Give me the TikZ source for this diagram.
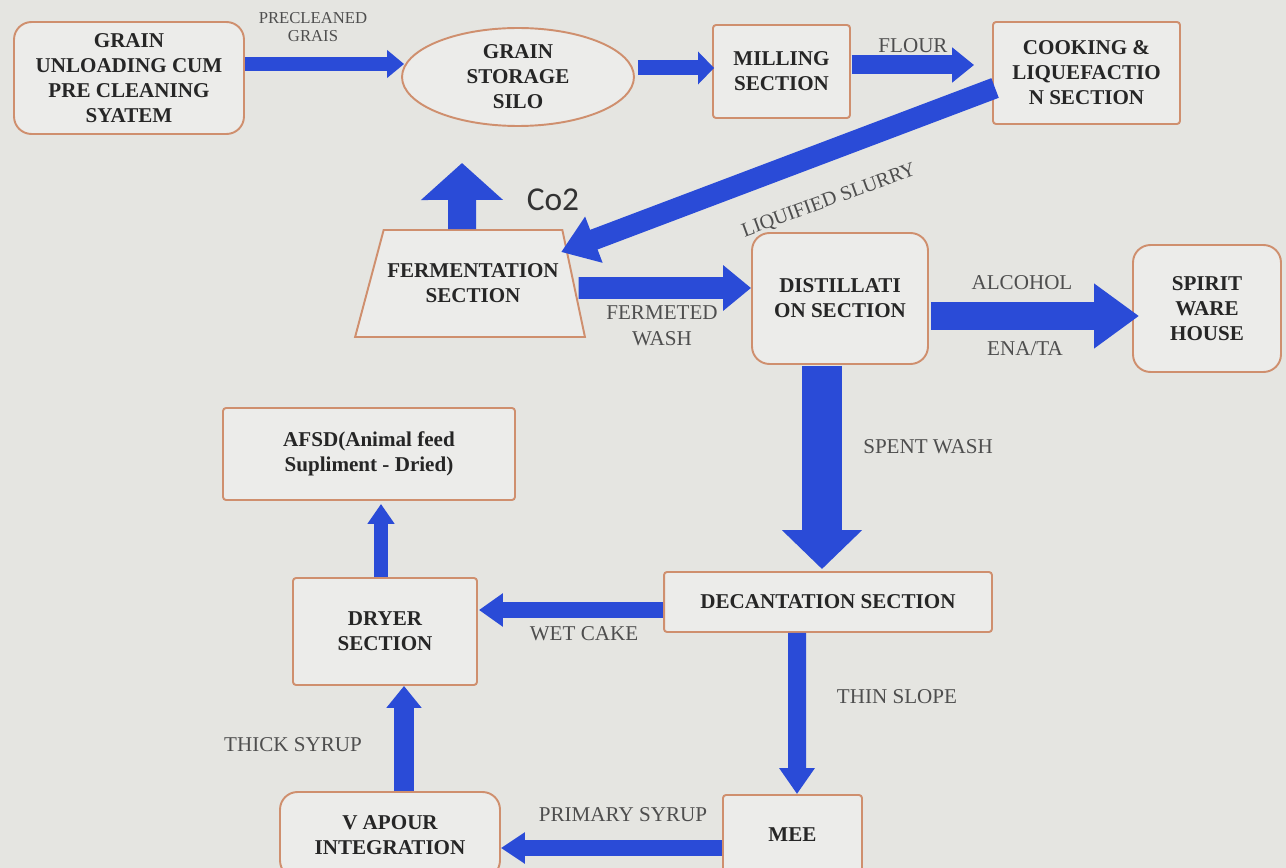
\documentclass[tikz,border=0pt]{standalone}
\usepackage{fontspec}
\setmainfont{Liberation Serif}
\newfontfamily\cofont{Carlito}
\usepackage{tikz}
\usetikzlibrary{calc,arrows.meta,shapes.geometric}

\definecolor{bgcol}{HTML}{E5E5E1}
\definecolor{boxfill}{HTML}{ECECEA}
\definecolor{boxline}{HTML}{CF8F6E}
\definecolor{flowblue}{HTML}{2A4BD7}
\definecolor{lblgray}{HTML}{4E4E4E}

\tikzset{
  box/.style={draw=boxline, fill=boxfill, line width=1.1pt, align=center, inner sep=0pt,
    text=black!85, font=\fontsize{12}{14.2}\selectfont\bfseries},
  rbox/.style={box, rounded corners=0.35cm},
  sbox/.style={box, rounded corners=0.06cm},
  lbl/.style={text=lblgray, align=center, font=\fontsize{12}{13}\selectfont},
  flow/.style={draw=flowblue, line width=#1},
}

\begin{document}
\begin{tikzpicture}[x=0.02cm,y=-0.02cm]

 \fill[bgcol] (0,0) rectangle (1286,868);
 \useasboundingbox (0,0) rectangle (1286,868);

 \node[rbox, minimum width=4.6cm, minimum height=2.24cm] (unload) at (129,78) {GRAIN\\UNLOADING CUM\\PRE CLEANING\\SYATEM};
 \node[box, ellipse, minimum width=4.64cm, minimum height=1.96cm] (silo) at (518,77) {GRAIN\\STORAGE\\SILO};
 \node[sbox, minimum width=2.74cm, minimum height=1.86cm] (mill) at (781.5,71.5) {MILLING\\SECTION};
 \node[sbox, minimum width=3.74cm, minimum height=2.04cm] (cook) at (1086.5,73) {COOKING \&\\LIQUEFACTIO\\N SECTION};

 \node[box, trapezium, trapezium left angle=55, trapezium right angle=61, trapezium stretches=true,
   minimum width=4.6cm, minimum height=2.14cm] (ferm) at (473,283.5) {FERMENTATION\\SECTION};
 \node[rbox, minimum width=3.52cm, minimum height=2.62cm] (dist) at (840,298.5) {DISTILLATI\\ON SECTION};
 \node[rbox, minimum width=2.96cm, minimum height=2.54cm] (spirit) at (1207,308.5) {SPIRIT\\WARE\\HOUSE};

 \node[sbox, minimum width=5.84cm, minimum height=1.84cm] (afsd) at (369,454) {AFSD(Animal feed\\Supliment - Dried)};
 \node[sbox, minimum width=3.68cm, minimum height=2.14cm] (dryer) at (385,631.5) {DRYER\\SECTION};
 \node[sbox, minimum width=6.56cm, minimum height=1.2cm] (decant) at (828,602) {DECANTATION SECTION};
 \node[rbox, minimum width=4.4cm, minimum height=1.72cm] (vapour) at (390,835) {V APOUR\\INTEGRATION};
 \node[sbox, minimum width=2.78cm, minimum height=1.6cm] (mee) at (792.5,835) {MEE};

 \coordinate (co2) at (462,163);

 % flows
 \draw[flow=0.28cm, -{Triangle[width=0.54cm,length=0.34cm]}] ($(unload.east)+(0,-14)$) -- ($(silo.west)+(3,-13)$);
 \draw[flow=0.3cm, -{Triangle[width=0.64cm,length=0.32cm]}] ($(silo.east)+(3,-9)$) -- ($(mill.west)+(2,-3.5)$);
 \draw[flow=0.38cm, -{Triangle[width=0.68cm,length=0.44cm]}] ($(mill.east)+(1,-6.5)$) -- ($(cook.west)+(-18,-8)$);
 \draw[flow=0.42cm, -{Triangle[width=0.94cm,length=0.7cm]}] ($(cook.west)+(3,15)$) -- ($(ferm.top right corner)+(-2,23)$);
 \draw[flow=0.56cm, -{Triangle[width=1.6cm,length=0.74cm]}] ($(ferm.north)+(-11,0)$) -- (co2);
 \draw[flow=0.44cm, -{Triangle[width=0.88cm,length=0.56cm]}] ($(ferm.east)+(4,4.5)$) -- ($(dist.west)+(0,-10.5)$);
 \draw[flow=0.56cm, -{Triangle[width=1.24cm,length=0.9cm]}] ($(dist.east)+(2,17.5)$) -- ($(spirit.west)+(7,7.5)$);
 \draw[flow=0.8cm, -{Triangle[width=1.56cm,length=0.78cm]}] ($(dist.south)+(-18,1)$) -- ($(decant.north)+(-6,-2)$);
 \draw[flow=0.32cm, -{Triangle[width=0.64cm,length=0.48cm]}] ($(decant.west)+(0,8)$) -- ($(dryer.east)+(1,-21.5)$);
 \draw[flow=0.36cm, -{Triangle[width=0.68cm,length=0.52cm]}] ($(decant.south)+(-31,0)$) -- ($(mee.north)+(4.5,0)$);
 \draw[flow=0.32cm, -{Triangle[width=0.6cm,length=0.48cm]}] ($(mee.west)+(0,13)$) -- ($(vapour.east)+(0,13)$);
 \draw[flow=0.4cm, -{Triangle[width=0.68cm,length=0.44cm]}] ($(vapour.north)+(14,0)$) -- ($(dryer.south)+(19,0)$);
 \draw[flow=0.28cm, -{Triangle[width=0.52cm,length=0.4cm]}] ($(dryer.north)+(-4,0)$) -- ($(afsd.south)+(12,3)$);

 % labels
 \node[lbl, font=\fontsize{9.5}{10}\selectfont] (lprecl) at (313,27) {PRECLEANED\\GRAIS};
 \node[lbl] (lflour) at (913,46) {FLOUR};
 \node[lbl, rotate=20, font=\fontsize{11.5}{13}\selectfont] (lslurry) at (829,201) {LIQUIFIED SLURRY};
 \node[text=black!80, font=\cofont\fontsize{19}{22}\selectfont] (lco2) at (553,200) {Co2};
 \node[lbl, font=\fontsize{12}{15}\selectfont] (lwash) at (662,326) {FERMETED\\WASH};
 \node[lbl] (lalc) at (1022,283) {ALCOHOL};
 \node[lbl] (lena) at (1025,349) {ENA/TA};
 \node[lbl] (lspent) at (928,447) {SPENT WASH};
 \node[lbl] (lcake) at (584,634) {WET CAKE};
 \node[lbl] (lthin) at (897,697) {THIN SLOPE};
 \node[lbl] (lthick) at (293,745) {THICK SYRUP};
 \node[lbl] (lprim) at (623,815) {PRIMARY SYRUP};
\end{tikzpicture}
\end{document}
